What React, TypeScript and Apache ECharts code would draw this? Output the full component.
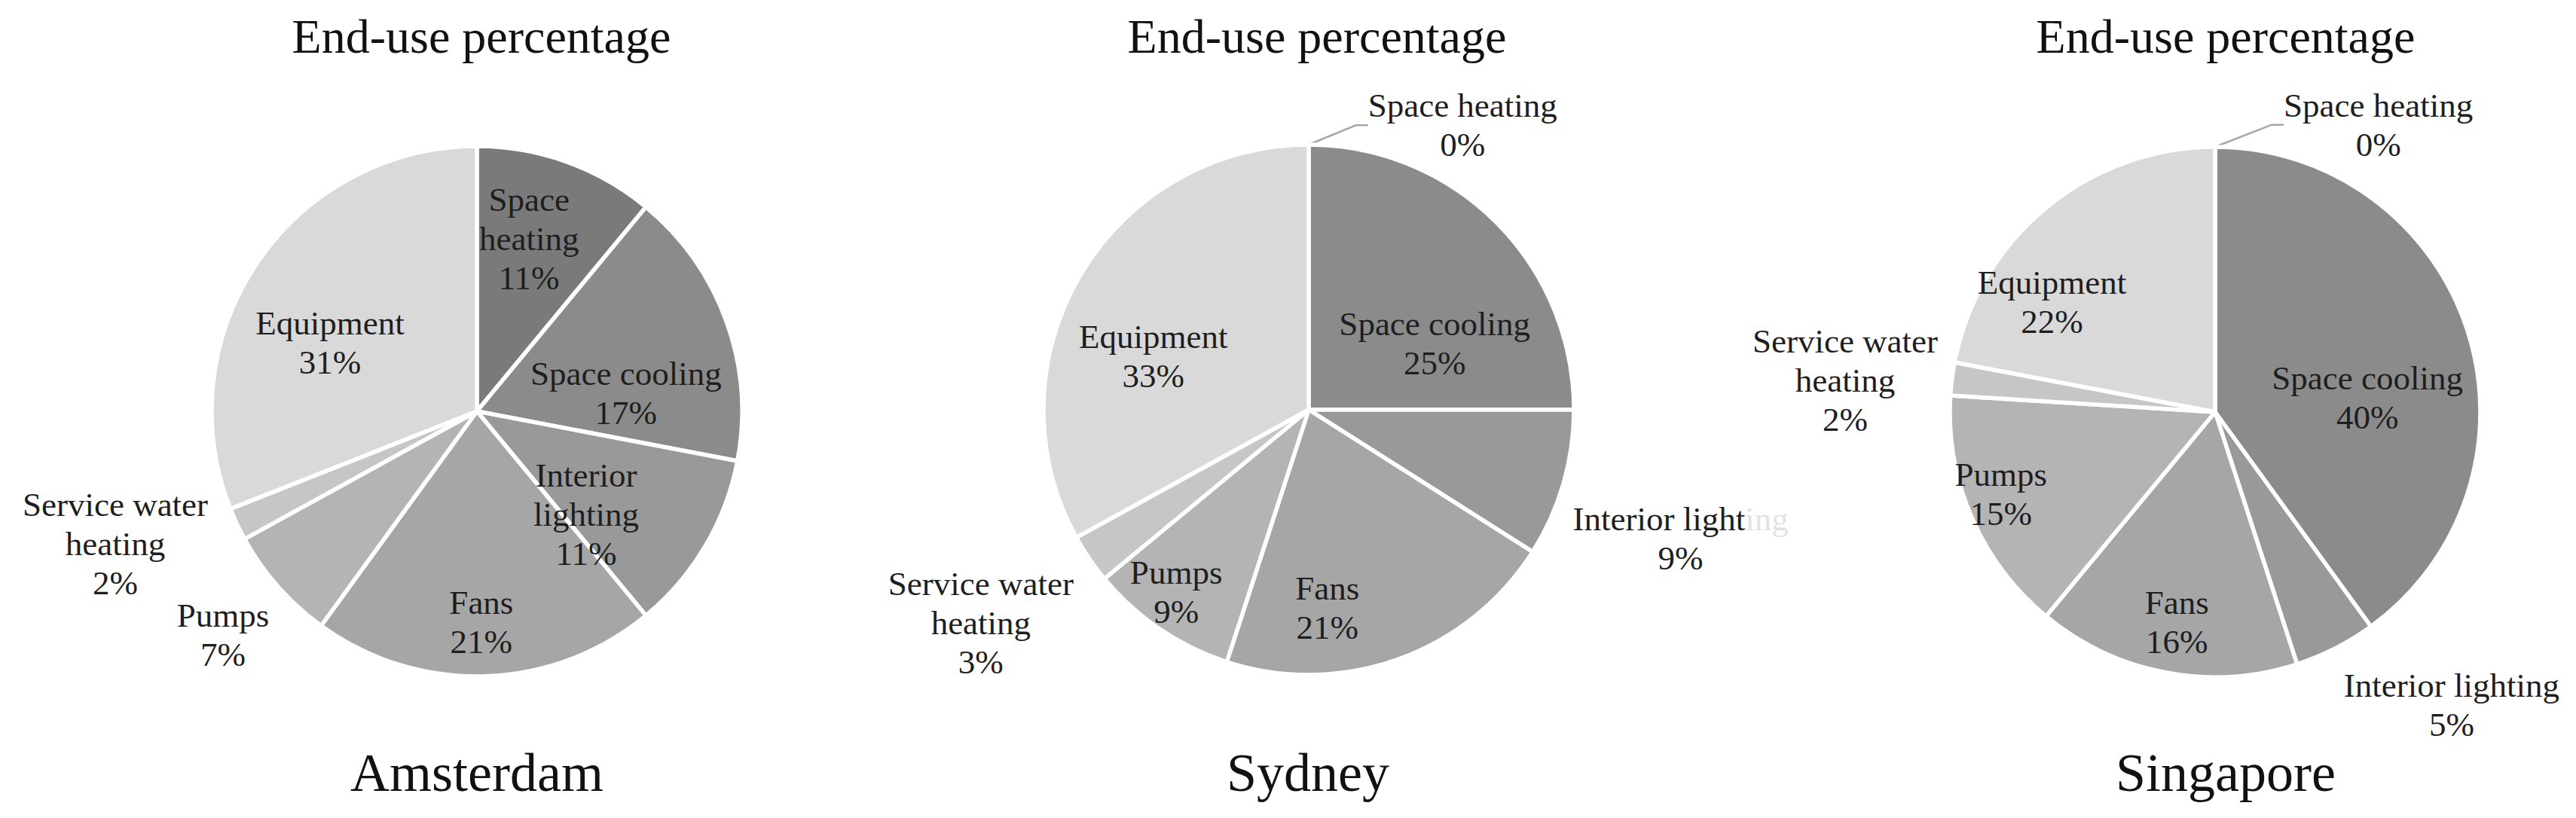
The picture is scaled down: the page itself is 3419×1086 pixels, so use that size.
import React, { useEffect, useRef } from "react";
import * as echarts from "echarts";

const categories = [
  "Space heating",
  "Space cooling",
  "Interior lighting",
  "Fans",
  "Pumps",
  "Service water heating",
  "Equipment",
];
const amsterdamValues = [11, 17, 11, 21, 7, 2, 31];
const sydneyValues = [0, 25, 9, 21, 9, 3, 33];
const singaporeValues = [0, 40, 5, 16, 15, 2, 22];
const cityNames = ["Amsterdam", "Sydney", "Singapore"];
const chartTitle = "End-use percentage";

const amsterdamLabelNames = [
  "Space\nheating",
  "Space cooling",
  "Interior\nlighting",
  "Fans",
  "Pumps",
  "Service water\nheating",
  "Equipment",
];
const sydneyLabelNames = [
  "Space heating",
  "Space cooling",
  "Interior light{fade|ing}",
  "Fans",
  "Pumps",
  "Service water\nheating",
  "Equipment",
];
const singaporeLabelNames = [
  "Space heating",
  "Space cooling",
  "Interior lighting",
  "Fans",
  "Pumps",
  "Service water\nheating",
  "Equipment",
];

// styles
const sliceColors = ["#7a7a7a", "#8b8b8b", "#999999", "#a6a6a6", "#b4b4b4", "#c6c6c6", "#d9d9d9"];
const FONT = "'Liberation Serif', 'Times New Roman', serif";

// label placement relative to slice: [radius factor, angle shift in degrees]
const amsterdamLabelPlace = [[0.68, -3], [0.566, 13], [0.566, 12.7], [0.795, 0.6], [1.276, 0], [1.452, 5.1], [0.611, -9.2]];
const sydneyLabelPlace = [[1.22, 28.4], [0.537, 17.2], [1.484, 2.9], [0.75, 14.4], [0.85, 1.8], [1.474, 1.2], [0.62, -11.6]];
const singaporeLabelPlace = [[1.246, 29.6], [0.577, 12.5], [1.42, -11.9], [0.807, -0.5], [0.865, 2.4], [1.4, -2.3], [0.742, -16.4]];

const panels = [
  { values: amsterdamValues, names: amsterdamLabelNames, place: amsterdamLabelPlace, center: [633, 546], titleX: 639, cityX: 633 },
  { values: sydneyValues, names: sydneyLabelNames, place: sydneyLabelPlace, center: [1737, 544], titleX: 1748, cityX: 1736 },
  { values: singaporeValues, names: singaporeLabelNames, place: singaporeLabelPlace, center: [2940, 547], titleX: 2954, cityX: 2954 },
];
const RADIUS = 352;

function buildSeries(p: any) {
  const total = p.values.reduce((a: number, b: number) => a + b, 0);
  const mids: number[] = [];
  let cum = 0;
  p.values.forEach((v: number) => {
    mids.push((cum + v / 2) / total);
    cum += v;
  });
  return {
    type: "pie",
    center: p.center,
    radius: RADIUS,
    startAngle: 90,
    clockwise: true,
    avoidLabelOverlap: false,
    silent: true,
    itemStyle: { borderColor: "#ffffff", borderWidth: 5.5 },
    label: {
      show: true,
      position: "inside",
      formatter: (prm: any) => p.names[prm.dataIndex] + "\n" + prm.value + "%",
      fontFamily: FONT,
      fontSize: 45,
      lineHeight: 52,
      color: "#1e1e1e",
      align: "center",
      rich: {
        fade: { color: "#e2e2e2", fontFamily: FONT, fontSize: 45, lineHeight: 52 },
      },
    },
    labelLine: { show: false },
    emphasis: { disabled: true },
    data: p.values.map((v: number, i: number) => ({
      name: categories[i],
      value: v,
      itemStyle: { color: sliceColors[i] },
      label: { position: v === 0 ? "outside" : "inside" },
      labelLine: {
        show: v === 0,
        length: 20,
        length2: 16,
        lineStyle: { color: "#a6a6a6", width: 2.5 },
      },
    })),
    labelLayout: (prm: any) => {
      const i = prm.dataIndex;
      const [f, shift] = p.place[i];
      const a = ((mids[i] * 360 + shift) * Math.PI) / 180;
      return {
        x: p.center[0] + f * RADIUS * Math.sin(a),
        y: p.center[1] - f * RADIUS * Math.cos(a),
        align: "center",
        verticalAlign: "middle",
      };
    },
  };
}

export default function App() {
  const ref = useRef<HTMLDivElement>(null);
  useEffect(() => {
    if (!ref.current) return;
    const chart = echarts.init(ref.current, null, { renderer: "svg" });
    const graphics: any[] = [];
    panels.forEach((p, k) => {
      graphics.push({
        type: "text",
        x: p.titleX,
        y: 48,
        style: { text: chartTitle, font: `64px ${FONT}`, fill: "#111111", textAlign: "center", textVerticalAlign: "middle" },
      });
      graphics.push({
        type: "text",
        x: p.cityX,
        y: 1026,
        style: { text: cityNames[k], font: `72px ${FONT}`, fill: "#111111", textAlign: "center", textVerticalAlign: "middle" },
      });
    });
    chart.setOption({
      animation: false,
      backgroundColor: "#ffffff",
      graphic: graphics,
      series: panels.map(buildSeries),
    });
    return () => chart.dispose();
  }, []);
  return (
    <div
      ref={ref}
      style={{ position: "absolute", left: 0, top: 0, width: 3419, height: 1086 }}
    />
  );
}
